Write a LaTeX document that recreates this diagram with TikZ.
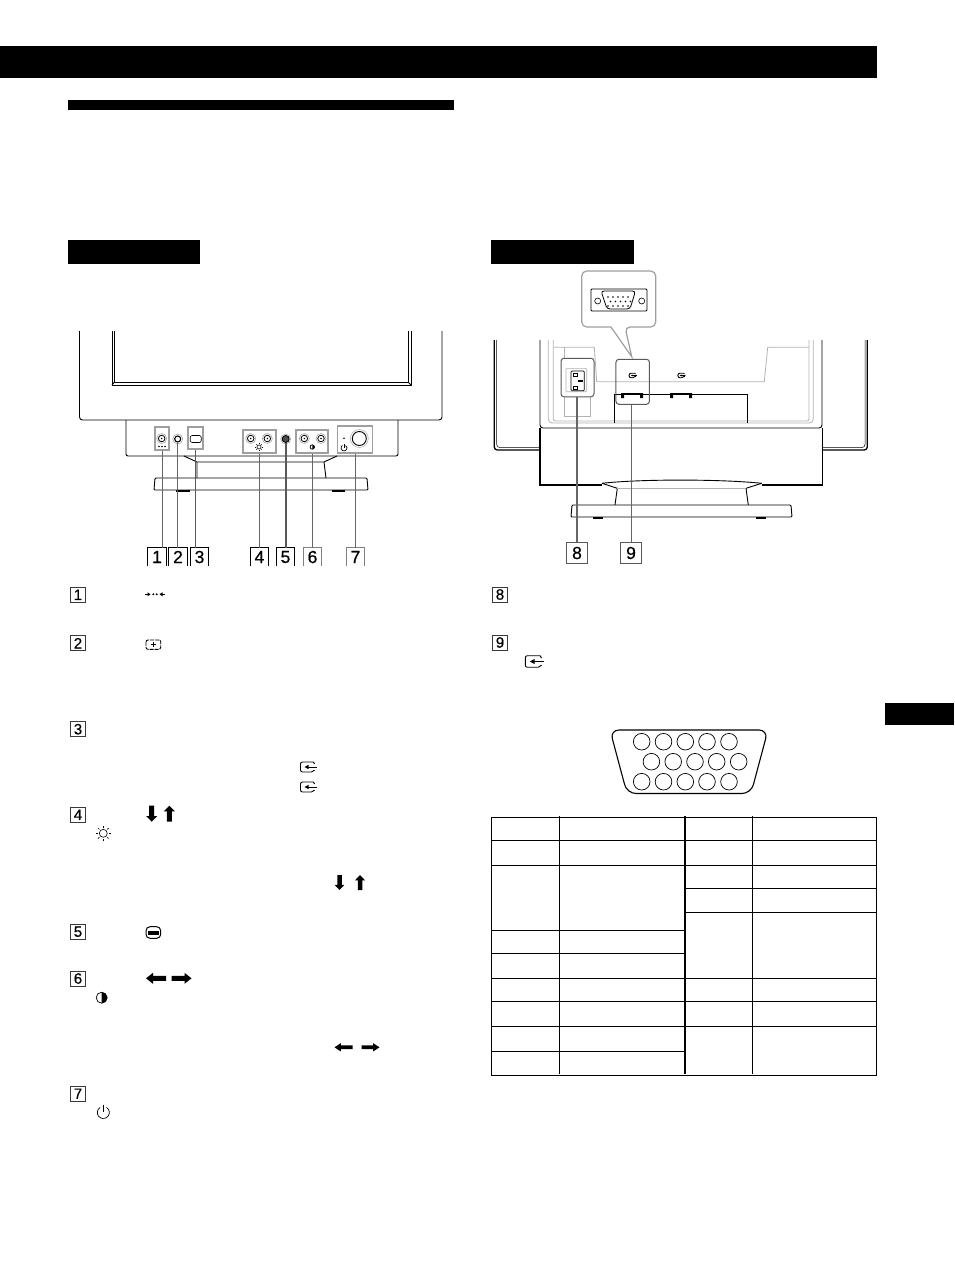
\documentclass[tikz,border=0pt]{standalone}
\usepackage{fontspec}
\setmainfont{Liberation Sans}
\newfontfamily\numfont[FakeBold=0.6]{Liberation Sans}
\begin{document}
\begin{tikzpicture}[x=1pt,y=-1pt,line width=.9pt,
    faint/.style={draw=gray!60,line width=.8pt},
    leader/.style={draw=gray!80!black,line width=.9pt},
    heavyleader/.style={draw=black!65,line width=1.6pt},
    ctlbox/.style={draw=gray!75,line width=1.2pt,inner sep=0pt},
    knob/.style={draw,circle,inner sep=0pt,minimum size=#1},
    bluebox/.style={draw=gray!70!black,rounded corners=3pt,line width=1pt,inner sep=0pt},
    callnum/.style={inner sep=0pt,minimum width=17.5pt,minimum height=17.5pt,
        font=\numfont\fontsize{17.5}{18}\selectfont},
    listnum/.style={draw=gray!45!black,line width=.8pt,inner sep=0pt,minimum width=15.5pt,
        minimum height=15pt,font=\numfont\fontsize{15}{15}\selectfont},
    inputicon/.pic={
        \draw[rounded corners=2pt] (5,-5)--(-8,-5)--(-8,5)--(5,5)--(6,3);
        \draw[rounded corners=1pt] (5,-5)--(6,-3);
        \draw (-1,0)--(8.5,0);
        \fill (-4,0)--(0,-2.2)--(0,2.2)--cycle;},
    blockarrow/.pic={
        \fill (10,0)--(3,-5.5)--(3,-2.5)--(-10,-2.5)--(-10,2.5)--(3,2.5)--(3,5.5)--cycle;},
    sunicon/.pic={
        \draw[line width=.6pt] (0,0) circle[radius=4];
        \foreach \a in {0,45,...,315}{\draw[line width=.6pt] (\a:5.5)--(\a:7.5);}},
    halficon/.pic={
        \draw[line width=.7pt] (0,0) circle[radius=#1];
        \fill (0,-#1) arc[start angle=-90,end angle=90,radius=#1]--cycle;},
    powericon/.pic={
        \draw[line width=.7pt] (3.2,-5.1) arc[start angle=-58,end angle=238,radius=6];
        \draw[line width=.7pt] (0,-8)--(0,-1);}]
\useasboundingbox (0,0) rectangle (954,1274);
\fill (0,46) rectangle (877,78);
\fill (68,100) rectangle (454,110);
\fill (68,240) rectangle (200,264);
\fill (491,240) rectangle (634,264);
\fill (885,703) rectangle (954,725);
\draw[rounded corners=3pt] (79.5,331)--(79.5,420)--(442,420)--(442,331);
\draw (112,331)--(112,385)--(411,385)--(411,331);
\draw[line width=.5pt] (114,331)--(114,382.5)--(408.5,382.5)--(408.5,331);
\draw (112,385)--(114,382.5) (411,385)--(408.5,382.5);
\draw[rounded corners=2pt] (126,420)--(126,456)--(398,456)--(398,420);
\draw (184,456)--(197,462)--(324,462)--(337,456);
\draw (197,462)--(197,478) (324,462)--(326,478);
\draw[rounded corners=1pt] (155,478)--(367,478)--(368,490)--(154,490)--cycle;
\draw[line width=1.3pt] (176,491)--(190,491) (332,491)--(345,491);
\node[ctlbox,minimum width=14pt,minimum height=23pt] (ctl1) at (162,438.5) {};
\node[knob=6pt,line width=1.1pt] (ctl2) at (177.7,439) {};
\node[ctlbox,minimum width=15pt,minimum height=22pt] (ctl3) at (195.5,438) {};
\node[ctlbox,minimum width=33pt,minimum height=23pt] (ctl4) at (259.5,441.5) {};
\node[knob=7pt,fill=black!70] (ctl5) at (285.7,439) {};
\node[ctlbox,minimum width=32pt,minimum height=23pt] (ctl6) at (312,441.5) {};
\node[ctlbox,minimum width=35pt,minimum height=27pt] (ctl7) at (355.2,439.5) {};
\foreach \x in {161.7,250.7,267.3,304.3,321}{
    \node[knob=10pt,draw=gray!70,line width=.6pt] at (\x,438.5) {};
    \node[knob=6.5pt,line width=.8pt] at (\x,438.5) {};
    \fill (\x,438.5) circle[radius=.8];}
\node[knob=10pt,draw=gray!70,line width=.6pt] at (177.7,439) {};
\node[knob=10pt,draw=gray!70,line width=.6pt] at (285.7,439) {};
\node[draw,rounded corners=2pt,line width=.6pt,inner sep=0pt,minimum width=11pt,
    minimum height=7pt] at (195.7,439) {};
\fill (159,446.5) circle[radius=.8] (162,446.5) circle[radius=.8] (165,446.5) circle[radius=.8];
\pic[scale=.5] at (259,447) {sunicon};
\pic at (312.3,447) {halficon=2.2};
\pic[scale=.5] at (344,448) {powericon};
\fill (344,438.3) circle[radius=.9];
\node[knob=18pt,draw=gray!70,line width=.5pt] at (359.3,438.5) {};
\node[knob=14pt] at (359.3,438.5) {};
\foreach \n/\x/\c in {1/157/black,2/178/black,3/199.5/black,4/259.5/black,5/285.5/black,6/312.5/gray,7/355.5/gray}{
    \node[callnum] (num\n) at (\x,557) {\raisebox{-1pt}{\n}};
    \draw[\c,line width=1pt] (num\n.south west)--(num\n.north west)--(num\n.north east)--(num\n.south east);}
\foreach \n/\s in {1/leader,2/leader,3/heavyleader,4/leader,5/heavyleader,6/leader,7/leader}{
    \draw[\s] (ctl\n.south)--(ctl\n.south |- num\n.north);}
\draw[line width=1.2pt,draw=gray!75,fill=white,rounded corners=5pt] (581.7,271)--(655.7,271)--(655.7,327)--(625,327)
    [sharp corners]--(631.7,356.7)--(611,327)[rounded corners=5pt]--(581.7,327)--cycle;
\node[draw,rounded corners=1pt,inner sep=0pt,minimum width=56pt,minimum height=22pt] (vgasmall) at (619,300) {};
\draw[rounded corners=3pt,line width=.8pt] (601,291)--(635.5,291)--(630,309)--(607,309)--cycle;
\foreach \x in {597.7,641.7}{\draw[line width=.6pt] (\x,301) circle[radius=3];}
\foreach \i in {0,...,4}{
    \fill (\i*5+608,297) circle[radius=.9] (\i*5+610.5,301.5) circle[radius=.9] (\i*5+608,306) circle[radius=.9];}
\draw[line width=1.3pt,rounded corners=3pt] (494.3,340)--(494.3,450)--(540,450);
\draw[line width=.5pt,rounded corners=3pt] (496.7,340)--(496.7,447.5)--(540,447.5);
\draw[line width=1.3pt,rounded corners=3pt] (867.3,340)--(867.3,450)--(822,450);
\draw[line width=.5pt,rounded corners=3pt] (865,340)--(865,447.5)--(822,447.5);
\draw[rounded corners=3pt] (540,340)--(540,428)--(822,428)--(822,340);
\draw[faint,rounded corners=4pt] (548.3,340)--(548.3,423)--(813.3,423)--(813.3,340);
\draw[faint,rounded corners=2pt] (553.3,340)--(553.3,421)--(809,421)--(809,340);
\draw[faint] (553.3,347.3)--(594.3,347.3)--(596.7,381.7)--(764.3,381.7)--(767.7,347.3)--(809,347.3);
\draw[faint] (564,347.3)--(564,416.5)--(590.5,416.5)--(590.5,396);
\draw (614,423)--(614,394.3)--(747.7,394.3)--(747.7,423);
\draw[line width=1.2pt] (540,428)--(540,485)--(602,485) (761.7,485)--(822.3,485)--(822.3,428);
\draw (602,483.3) .. controls (640,479) and (720,479) .. (761.7,483.3);
\draw (602,483.3)--(617.3,488.3)--(615,505) (761.7,483.3)--(746,488.3)--(748.3,505);
\draw[faint] (617.3,488.3)--(746,488.3);
\draw[rounded corners=1pt] (572,505)--(791,505)--(792,517)--(571,517)--cycle;
\draw[line width=1.3pt] (593,518)--(603,518) (756,518)--(766,518);
\node[bluebox,fill=white,minimum width=33pt,minimum height=38.5pt] (inlet) at (577.5,377.5) {};
\node[bluebox,minimum width=33.5pt,minimum height=45pt] (dsub) at (632.7,381.8) {};
\draw[faint,line width=.6pt,rounded corners=1pt] (566,368.3) rectangle (586.7,391.7);
\draw[line width=.7pt,rounded corners=1pt] (571,371) rectangle (584.3,390.7);
\draw[line width=.5pt] (573.5,373.5) rectangle (577.5,376.5) (573.5,386) rectangle (577.5,389);
\fill (577.5,380)--(582.5,380)--(582.5,381.5)--(577.5,381.5)--cycle;
\foreach \x in {632.7,681.5}{
    \pic[scale=.45] at (\x,375.5) {inputicon};
    \fill (\x-11.5,393) rectangle +(3,5) (\x+7.5,393) rectangle +(3,5);
    \draw[line width=.5pt] (\x-8.5,393)--(\x+7.5,393);}
\foreach \n/\x in {8/577,9/631}{
    \node[callnum,draw=gray!70!black,line width=1pt,minimum width=20.5pt,minimum height=21pt] (num\n) at (\x,553) {\n};}
\draw[leader,line width=1.1pt] (inlet.south -| num8)--(num8.north);
\draw[leader] (dsub.south -| num9)--(num9.north);
\foreach \n/\x/\y in {1/78/594.8,2/78/643.3,3/78/729.2,4/78/814.8,5/78/931.7,6/78/978.5,7/78/1093.7,8/500/594.5,9/500/642.5}{
    \node[listnum] (item\n) at (\x,\y) {\n};}
\draw[line width=.6pt] (145,594.3)--(149,594.3) (161,594.3)--(165,594.3);
\fill (150.5,594.3)--(147.5,592.3)--(147.5,596.3)--cycle (159.5,594.3)--(162.5,592.3)--(162.5,596.3)--cycle;
\fill (153.3,594.3) circle[radius=1.1] (156.7,594.3) circle[radius=1.1];
\draw[line width=.9pt,rounded corners=2pt,dash pattern=on 4pt off 1pt] (146,640) rectangle (160.7,649.3);
\draw[line width=.7pt] (151,644.7)--(156,644.7) (153.5,642.2)--(153.5,647.2);
\foreach \x/\y/\s in {308.5/767/1,308.5/787/1,534.5/661.5/1.15}{
    \pic[scale=\s] at (\x,\y) {inputicon};}
\pic[rotate=-90,xscale=.8] at (151.7,813.7) {blockarrow};
\pic[rotate=90,xscale=.8] at (169.3,813.7) {blockarrow};
\pic at (103.3,833.3) {sunicon};
\pic[rotate=-90,xscale=.75,yscale=.9] at (339.5,882.5) {blockarrow};
\pic[rotate=90,xscale=.75,yscale=.9] at (360,882.5) {blockarrow};
\draw[line width=1pt,rounded corners=4pt] (146,926.7) rectangle (160.7,938.3);
\fill (147.5,930.5) rectangle (159.2,934.5);
\pic[rotate=180] at (156,978.3) {blockarrow};
\pic at (181.5,978.3) {blockarrow};
\pic at (101.7,997.7) {halficon=5.5};
\pic[rotate=180,xscale=.9,yscale=.75] at (343.5,1047.3) {blockarrow};
\pic[xscale=.9,yscale=.75] at (370.5,1047.3) {blockarrow};
\pic at (103.3,1112.5) {powericon};
\draw[line width=1.1pt,rounded corners=9pt] (610,730)--(768,730)--(751,793.5)--(627,793.5)--cycle;
\foreach \x in {641.7,663.5,685.3,707,729}{
    \draw[line width=.7pt] (\x,741.7) circle[radius=8.3] (\x,781.7) circle[radius=8.3];
    \draw[line width=.7pt] (\x+9.7,761.7) circle[radius=8.3];}
\draw (491.7,817.3) rectangle (876.3,1075.3);
\foreach \x in {559.3,752.3}{\draw (\x,816)--(\x,1074);}
\draw[line width=1.6pt] (685,816)--(685,1074);
\foreach \y in {840.3,865.3,930.3,953.3,978.3,1001.3,1026.3,1051.3}{\draw (491.7,\y)--(685,\y);}
\foreach \y in {840.3,865.3,888.3,912.3,978.3,1001.3,1026.3}{\draw (685,\y)--(876.3,\y);}
\end{tikzpicture}
\end{document}
